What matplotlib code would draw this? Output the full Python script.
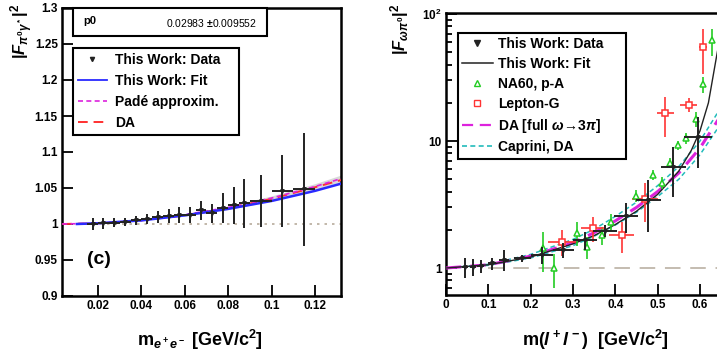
import matplotlib
matplotlib.use('Agg')
import matplotlib.pyplot as plt
from matplotlib.patches import Rectangle
import numpy as np

plt.rcParams['font.family'] = ['Liberation Sans', 'DejaVu Sans']
plt.rcParams['font.weight'] = 'bold'
plt.rcParams['mathtext.fontset'] = 'custom'
plt.rcParams['mathtext.rm'] = 'Liberation Sans:bold'
plt.rcParams['mathtext.it'] = 'Liberation Sans:italic:bold'
plt.rcParams['mathtext.bf'] = 'Liberation Sans:bold'

# ---------------- left panel data ----------------
left_x = [0.0175, 0.0225, 0.0275, 0.0325, 0.0375, 0.0425, 0.0475, 0.0525, 0.0575,
          0.0625, 0.0675, 0.0725, 0.0775, 0.0825, 0.0875, 0.095, 0.105, 0.115]
left_xerr = [0.0025] * 15 + [0.005, 0.005, 0.005]
left_y = [1.000, 1.001, 1.002, 1.003, 1.005, 1.007, 1.010, 1.011, 1.013,
          1.013, 1.019, 1.015, 1.022, 1.026, 1.029, 1.032, 1.046, 1.048]
left_yerr = [0.009, 0.008, 0.006, 0.006, 0.006, 0.007, 0.008, 0.010, 0.011,
             0.011, 0.013, 0.013, 0.021, 0.026, 0.034, 0.036, 0.050, 0.078]

left_fit_x = [0.0103, 0.02, 0.04, 0.06, 0.08, 0.10, 0.12, 0.132]
left_fit_y = [1.000, 1.001, 1.005, 1.012, 1.021, 1.032, 1.046, 1.056]
left_da_x = [0.0035, 0.02, 0.04, 0.06, 0.08, 0.10, 0.12, 0.132]
left_da_y = [1.000, 1.001, 1.005, 1.012, 1.022, 1.035, 1.051, 1.061]
left_pade_y = [1.000, 1.001, 1.005, 1.013, 1.023, 1.036, 1.052, 1.063]
left_band_lo = [1.000, 1.001, 1.005, 1.011, 1.020, 1.032, 1.047, 1.057]
left_band_hi = [1.000, 1.002, 1.006, 1.014, 1.025, 1.039, 1.056, 1.068]

# ---------------- right panel data ----------------
r_x = [0.045, 0.064, 0.082, 0.109, 0.137, 0.18, 0.227, 0.277, 0.329, 0.376, 0.425, 0.478, 0.537, 0.596]
r_xerr = [0.008, 0.008, 0.008, 0.01, 0.012, 0.02, 0.026, 0.025, 0.028, 0.028, 0.028, 0.03, 0.03, 0.033]
r_y = [1.02, 1.02, 1.03, 1.09, 1.16, 1.19, 1.27, 1.39, 1.66, 1.97, 2.57, 3.43, 6.3, 10.8]
r_yerr = [0.18, 0.15, 0.12, 0.12, 0.22, 0.08, 0.19, 0.18, 0.27, 0.2, 0.67, 1.5, 2.7, 4.7]

fit_x = [0.0, 0.1, 0.2, 0.3, 0.35, 0.4, 0.45, 0.5, 0.55, 0.58, 0.6, 0.62, 0.64, 0.66]
fit_y = [1.0, 1.06, 1.22, 1.55, 1.8, 2.2, 2.8, 3.8, 5.8, 8.5, 12.0, 20.0, 48.0, 110.0]

da_x = [0.0, 0.1, 0.2, 0.3, 0.35, 0.4, 0.45, 0.5, 0.55, 0.6, 0.65, 0.68]
da_y = [1.0, 1.06, 1.24, 1.58, 1.9, 2.35, 3.0, 4.0, 5.6, 8.8, 16.0, 24.0]
cap_hi = [1.0, 1.07, 1.28, 1.68, 2.02, 2.55, 3.3, 4.45, 6.3, 10.0, 18.5, 28.0]
cap_lo = [1.0, 1.05, 1.2, 1.5, 1.78, 2.18, 2.75, 3.65, 5.0, 7.8, 13.8, 20.0]

na60_x = [0.229, 0.254, 0.31, 0.333, 0.368, 0.39, 0.45, 0.49, 0.51, 0.53, 0.549, 0.568, 0.59, 0.607, 0.628]
na60_y = [1.43, 1.0, 1.9, 1.47, 1.82, 2.3, 3.7, 5.4, 4.7, 6.7, 9.3, 10.5, 15.0, 28.0, 62.0]
na60_err = [0.5, 0.3, 0.4, 0.3, 0.3, 0.35, 0.4, 0.5, 0.5, 0.6, 0.8, 1.0, 2.0, 4.0, 15.0]

lep_x = [0.273, 0.348, 0.415, 0.47, 0.518, 0.573, 0.607]
lep_xerr = [0.033, 0.03, 0.03, 0.03, 0.02, 0.02, 0.01]
lep_y = [1.61, 2.05, 1.82, 3.5, 16.5, 19.4, 55.0]
lep_yerr = [0.37, 0.45, 0.5, 1.2, 5.8, 2.5, 21.0]

# ---------------- figure ----------------
W, H = 717, 358
fig = plt.figure(figsize=(W / 100, H / 100), dpi=100)


def frac(l, t, r, b):
    return [l / W, 1 - b / H, (r - l) / W, (b - t) / H]


def style_axes(ax):
    for s in ax.spines.values():
        s.set_linewidth(1.8)
    ax.tick_params(which='both', direction='in', width=1.3, labelsize=8.5, pad=3)
    ax.tick_params(which='major', length=8)
    ax.tick_params(which='minor', length=4)
    for lab in ax.get_xticklabels() + ax.get_yticklabels():
        lab.set_fontweight('bold')


# ---- left ----
axL = fig.add_axes(frac(62, 8, 341, 296))
axL.set_xlim(0.0034, 0.132)
axL.set_ylim(0.9, 1.3)
axL.axhline(1.0, color='#b8ac9c', ls=(0, (1.5, 3)), lw=1.2, zorder=1)
axL.fill_between(left_da_x, left_band_lo, left_band_hi, color='#c8c8c8', alpha=0.7, lw=0, zorder=2)
axL.plot(left_da_x, left_da_y, color='#ff3030', ls=(0, (5, 3)), lw=1.4, zorder=3)
axL.plot(left_da_x, left_pade_y, color='#dd22dd', ls=(0, (3, 2)), lw=1.2, zorder=3)
axL.plot(left_fit_x, left_fit_y, color='#2a2aff', lw=1.8, zorder=4)
axL.errorbar(left_x, left_y, xerr=left_xerr, yerr=left_yerr, fmt='v', color='#222222',
             ms=2.5, elinewidth=1.4, capsize=0, zorder=5)
axL.set_xticks([0.02, 0.04, 0.06, 0.08, 0.10, 0.12])
axL.set_xticklabels(['0.02', '0.04', '0.06', '0.08', '0.1', '0.12'])
axL.set_yticks([0.9, 0.95, 1.0, 1.05, 1.1, 1.15, 1.2, 1.25, 1.3])
axL.set_yticklabels(['0.9', '0.95', '1', '1.05', '1.1', '1.15', '1.2', '1.25', '1.3'])
style_axes(axL)
axL.text(0.0149, 0.950, '(c)', fontsize=14, fontweight='bold', va='center')

# stats box
axL.add_patch(Rectangle((0.039, 0.903), 0.696, 0.097, transform=axL.transAxes,
                        fill=True, facecolor='white', edgecolor='black', lw=1.5,
                        clip_on=False, zorder=10))
axL.text(0.075, 0.955, 'p0', transform=axL.transAxes, fontsize=8, fontweight='bold',
         va='center', zorder=11)
axL.text(0.70, 0.947, '0.02983 $\\pm$0.009552', transform=axL.transAxes, fontsize=7.5,
         fontweight='normal', va='center', ha='right', zorder=11)

hL = [
    plt.Line2D([], [], marker='v', color='#222222', ms=3, ls='none'),
    plt.Line2D([], [], color='#2a2aff', lw=1.3),
    plt.Line2D([], [], color='#dd22dd', lw=1.2, ls=(0, (3, 2))),
    plt.Line2D([], [], color='#ff3030', lw=1.4, ls=(0, (5, 3))),
]
legL = axL.legend(hL, ['This Work: Data', 'This Work: Fit', 'Padé approxim.', 'DA'],
                  loc='upper left', bbox_to_anchor=(0.039, 0.552, 0.595, 0.309), mode='expand',
                  fontsize=10, frameon=True, fancybox=False, edgecolor='black', framealpha=1,
                  borderpad=0.35, labelspacing=0.5, handlelength=2.1, handletextpad=0.6,
                  borderaxespad=0)
legL.get_frame().set_linewidth(1.5)
for t in legL.get_texts():
    t.set_fontweight('bold')

fig.text(22 / W, 1 - 4 / H, r'$|F_{\pi^0\gamma^*}|^2$', rotation=90, fontsize=12,
         ha='center', va='top')
fig.text(200 / W, 1 - 340 / H, r'm$_{e^+e^-}$ [GeV/c$^2$]', fontsize=13,
         ha='center', va='center', fontweight='bold')

# ---- right ----
axR = fig.add_axes(frac(446, 13, 730, 295))
axR.set_yscale('log')
axR.set_xlim(0, 0.671)
axR.set_ylim(0.613, 102)
axR.spines['right'].set_visible(False)
axR.plot([0.1, 0.671], [1, 1], color='#c4bcb0', ls=(0, (8, 5)), lw=1.4, zorder=1)
axR.plot(da_x, cap_hi, color='#22bbbb', ls=(0, (3, 2)), lw=1.1, zorder=2)
axR.plot(da_x, cap_lo, color='#22bbbb', ls=(0, (3, 2)), lw=1.1, zorder=2)
axR.plot(da_x, da_y, color='#dd22dd', ls=(0, (5, 3)), lw=2.2, zorder=3)
axR.plot(fit_x, fit_y, color='#222222', lw=1.0, zorder=4)
axR.errorbar(na60_x, na60_y, yerr=na60_err, fmt='^', mfc='white', mec='#22cc22',
             color='#22cc22', ms=4.5, mew=1.1, elinewidth=1.2, capsize=0, zorder=5)
axR.errorbar(lep_x, lep_y, xerr=lep_xerr, yerr=lep_yerr, fmt='s', mfc='white', mec='#ff3333',
             color='#ff3333', ms=5, mew=1.1, elinewidth=1.2, capsize=0, zorder=5)
axR.errorbar(r_x, r_y, xerr=r_xerr, yerr=r_yerr, fmt='v', color='#222222', ms=2.5,
             elinewidth=1.4, capsize=0, zorder=6)
axR.set_xticks([0, 0.1, 0.2, 0.3, 0.4, 0.5, 0.6])
axR.set_xticklabels(['0', '0.1', '0.2', '0.3', '0.4', '0.5', '0.6'])
axR.set_yticks([1, 10, 100])
axR.set_yticklabels(['1', '10', '10$^2$'])
axR.yaxis.set_minor_formatter(matplotlib.ticker.NullFormatter())
style_axes(axR)

hR = [
    plt.Line2D([], [], marker='v', color='#222222', ms=4, ls='none'),
    plt.Line2D([], [], color='#222222', lw=1.1),
    plt.Line2D([], [], marker='^', mfc='white', mec='#22cc22', ms=5, ls='none'),
    plt.Line2D([], [], marker='s', mfc='white', mec='#ff3333', ms=5, ls='none'),
    plt.Line2D([], [], color='#dd22dd', lw=1.6, ls=(0, (5, 3))),
    plt.Line2D([], [], color='#22bbbb', lw=1.2, ls=(0, (3, 2))),
]
legR = axR.legend(hR, ['This Work: Data', 'This Work: Fit', 'NA60, p-A', 'Lepton-G',
                       'DA [full $\\omega\\!\\rightarrow\\!3\\pi$]', 'Caprini, DA'],
                  loc='upper left', bbox_to_anchor=(0.042, 0.489, 0.592, 0.44), mode='expand',
                  fontsize=10, frameon=True, fancybox=False, edgecolor='black', framealpha=1,
                  borderpad=0.3, labelspacing=0.42, handlelength=2.2, handletextpad=0.4,
                  borderaxespad=0)
legR.get_frame().set_linewidth(1.5)
for t in legR.get_texts():
    t.set_fontweight('bold')

fig.text(400 / W, 1 - 4 / H, r'$|F_{\omega\pi^0}|^2$', rotation=90, fontsize=12,
         ha='center', va='top')
fig.text(595 / W, 1 - 340 / H, r'm($l^+l^-$)  [GeV/c$^2$]', fontsize=13,
         ha='center', va='center', fontweight='bold')

fig.savefig('out.png', dpi=100)
